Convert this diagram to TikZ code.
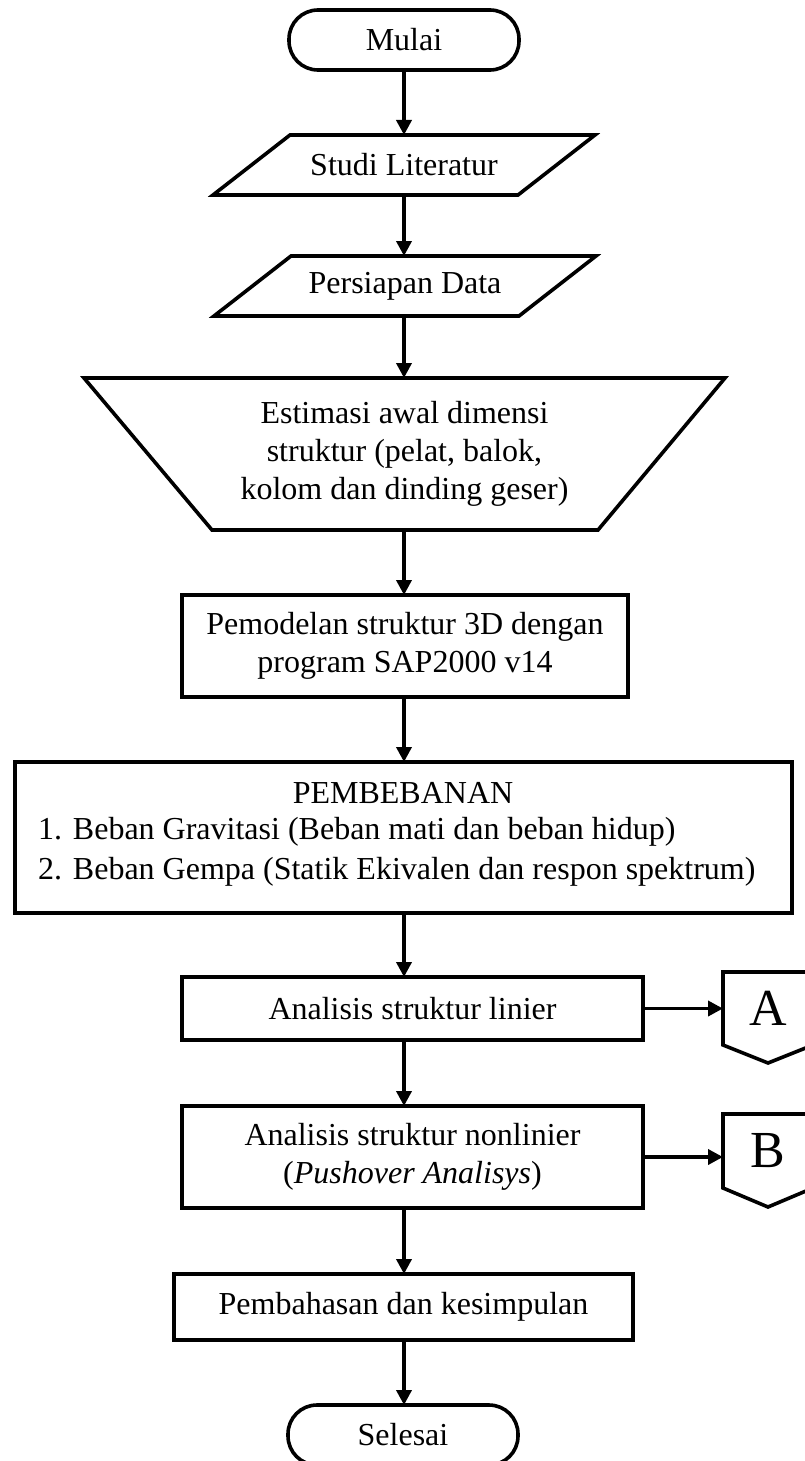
\documentclass[tikz,border=0pt]{standalone}
\usepackage{fontspec}
\setmainfont{Liberation Serif}
\usetikzlibrary{arrows.meta,calc}
\begin{document}
\begin{tikzpicture}[x=1pt,y=-1pt,
  every node/.style={font=\fontsize{32}{38}\selectfont, inner sep=0pt, outer sep=0pt},
  ln/.style={line width=3.6pt, line join=miter},
  arr/.style={line width=3.6pt, -{Triangle[length=15pt,width=15pt]}},
  box/.style={ln, draw, rectangle, align=center},
  term/.style={ln, draw, rectangle, rounded corners=29pt, minimum width=230pt, minimum height=60pt},
  frame/.style={rectangle, align=center},
  big/.style={font=\fontsize{52}{60}\selectfont}
]
\useasboundingbox (0,0) rectangle (804,1461);
\coordinate (axis) at (404,0);

% terminators
\node[term] (mulai) at (404,40) {Mulai};
\node[term] (selesai) at (403,1435) {Selesai};

% parallelograms
\node[frame, minimum width=382pt, minimum height=60pt] (studi) at (404,165) {Studi Literatur};
\draw[ln] ($(studi.north west)+(77,0)$) -- (studi.north east) -- ($(studi.south east)+(-77,0)$) -- (studi.south west) -- cycle;
\node[frame, minimum width=382pt, minimum height=60pt] (persiapan) at (405,286) {Persiapan Data};
\draw[ln] ($(persiapan.north west)+(77,0)$) -- (persiapan.north east) -- ($(persiapan.south east)+(-77,0)$) -- (persiapan.south west) -- cycle;

% trapezoid
\node[frame, minimum width=641pt, minimum height=152pt] (est) at (404.5,454)
  {Estimasi awal dimensi\\struktur (pelat, balok,\\kolom dan dinding geser)};
\draw[ln] (est.north west) -- (est.north east) -- ($(est.south east)+(-127,0)$) -- ($(est.south west)+(128,0)$) -- cycle;

% process boxes
\node[box, minimum width=446pt, minimum height=102pt] (model) at (405,646)
  {Pemodelan struktur 3D dengan\\program SAP2000 v14};
\node[box, minimum width=777pt, minimum height=151pt] (beban) at (403.5,837.5) {};
\node (bt) at (403,793) {PEMBEBANAN};
\node[anchor=west] (b1) at (38,832) {\makebox[35pt][l]{1.}Beban Gravitasi (Beban mati dan beban hidup)};
\node[anchor=west] (b2) at (38,872) {\makebox[35pt][l]{2.}Beban Gempa (Statik Ekivalen dan respon spektrum)};

\node[box, minimum width=461pt, minimum height=63pt] (lin) at (412.5,1008.5) {Analisis struktur linier};
\node[box, minimum width=461pt, minimum height=102pt] (nonlin) at (412.5,1157)
  {Analisis struktur nonlinier\\(\textit{Pushover Analisys})};
\node[box, minimum width=459pt, minimum height=66pt] (bahas) at (403.5,1307) {Pembahasan dan kesimpulan};

% off-page connectors
\node[frame, big, minimum width=90pt, minimum height=73pt] (A) at (768,1008.5) {A};
\draw[ln] (A.south west) -- (A.north west) -- (A.north east) -- (A.south east) -- ($(A.south)+(0,18)$) -- cycle;
\node[frame, big, minimum width=90pt, minimum height=74pt] (B) at (768,1151) {B};
\draw[ln] (B.south west) -- (B.north west) -- (B.north east) -- (B.south east) -- ($(B.south)+(0,19)$) -- cycle;

% connectors
\draw[arr] (mulai.south -| axis) -- (studi.north -| axis);
\draw[arr] (studi.south -| axis) -- (persiapan.north -| axis);
\draw[arr] (persiapan.south -| axis) -- (est.north -| axis);
\draw[arr] (est.south -| axis) -- (model.north -| axis);
\draw[arr] (model.south -| axis) -- (beban.north -| axis);
\draw[arr] (beban.south -| axis) -- (lin.north -| axis);
\draw[arr] (lin.south -| axis) -- (nonlin.north -| axis);
\draw[arr] (nonlin.south -| axis) -- (bahas.north -| axis);
\draw[arr] (bahas.south -| axis) -- (selesai.north -| axis);
\draw[arr] (lin.east) -- (lin.east -| A.west);
\draw[arr] (nonlin.east) -- (nonlin.east -| B.west);
\end{tikzpicture}
\end{document}
